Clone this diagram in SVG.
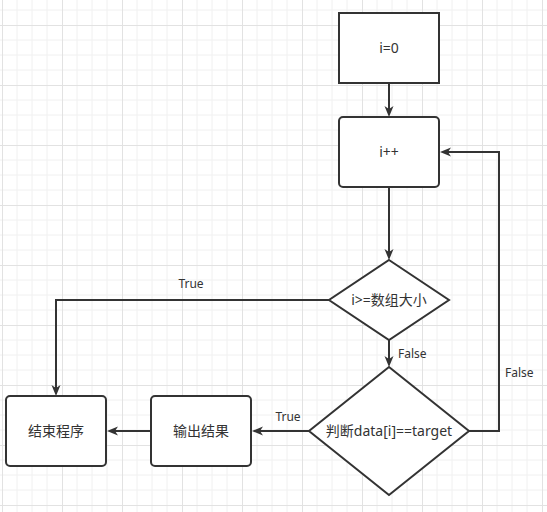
<svg xmlns="http://www.w3.org/2000/svg" width="547" height="512" viewBox="0 0 547 512">
  <defs>
    <pattern id="grid" patternUnits="userSpaceOnUse" x="2" y="25" width="60" height="60">
      <path d="M15,0V60M30,0V60M45,0V60M0,15H60M0,30H60M0,45H60" stroke="#f0f0f0" stroke-width="1" fill="none"/>
      <path d="M0.5,0V60M0,0.5H60" stroke="#e2e2e2" stroke-width="1" fill="none"/>
    </pattern>
    <marker id="arr" markerUnits="userSpaceOnUse" markerWidth="12" markerHeight="10" refX="3" refY="4.5" orient="auto" overflow="visible">
      <path d="M0,0 L11,4.5 L0,9 L3,4.5 Z" fill="#333333"/>
    </marker>
  </defs>
  <style>
    .node { fill: #ffffff; stroke: #333333; stroke-width: 2; }
    .edge { fill: none; stroke: #333333; stroke-width: 2; marker-end: url(#arr); }
    .t { font-family: "Noto Sans", "Noto Sans CJK SC", sans-serif; font-size: 14px; fill: #333333; text-anchor: middle; }
    .lbl { font-family: "Noto Sans", "Noto Sans CJK SC", sans-serif; font-size: 12px; fill: #333333; }
  </style>
  <rect x="0" y="0" width="547" height="512" fill="#ffffff"/>
  <rect x="0" y="0" width="547" height="512" fill="url(#grid)"/>

  <g id="connectors">
    <path class="edge" d="M389,83 L389,109"/>
    <path class="edge" d="M389,187 L389,252"/>
    <path class="edge" d="M329,300 L56,300 L56,388"/>
    <path class="edge" d="M389,340 L389,359"/>
    <path class="edge" d="M309,431 L260,431"/>
    <path class="edge" d="M151,431 L115,431"/>
    <path class="edge" d="M469,431 L499,431 L499,152 L448,152"/>
    <text class="lbl" x="191" y="288" text-anchor="middle">True</text>
    <text class="lbl" x="398" y="358">False</text>
    <text class="lbl" x="288" y="421" text-anchor="middle">True</text>
    <text class="lbl" x="505" y="377">False</text>
  </g>

  <g id="n-init">
    <rect class="node" x="339" y="13" width="100" height="70"/>
    <text class="t" x="389" y="53">i=0</text>
  </g>
  <g id="n-inc">
    <rect class="node" x="339" y="117" width="100" height="70" rx="4" ry="4"/>
    <text class="t" x="389" y="157">i++</text>
  </g>
  <g id="n-cond1">
    <polygon class="node" points="389,260 449,300 389,340 329,300"/>
    <text class="t" x="389" y="305">i&gt;=数组大小</text>
  </g>
  <g id="n-cond2">
    <polygon class="node" points="389,367 469,431 389,495 309,431"/>
    <text class="t" x="389" y="436">判断data[i]==target</text>
  </g>
  <g id="n-output">
    <rect class="node" x="151" y="396" width="100" height="70" rx="4" ry="4"/>
    <text class="t" x="201" y="436">输出结果</text>
  </g>
  <g id="n-end">
    <rect class="node" x="6" y="396" width="100" height="70" rx="4" ry="4"/>
    <text class="t" x="56" y="436">结束程序</text>
  </g>
</svg>
